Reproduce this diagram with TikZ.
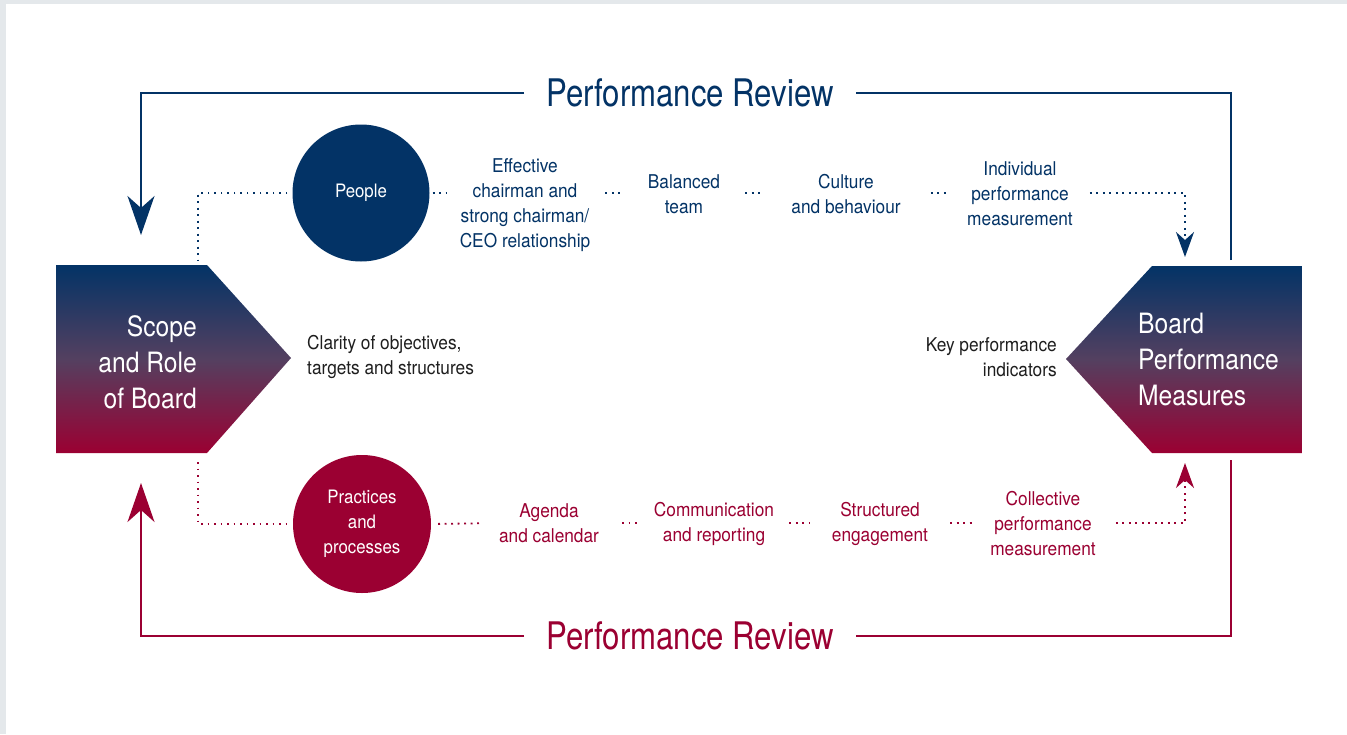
\documentclass[tikz,border=0pt]{standalone}
\usepackage{fontspec}
\setmainfont{TeX Gyre Heros}[FakeStretch=0.82]
\newfontfamily\smallf{TeX Gyre Heros}[FakeStretch=0.91]
\newfontfamily\bigf{TeX Gyre Heros}[FakeStretch=0.88]
\usetikzlibrary{arrows.meta,calc}
\definecolor{navy}{RGB}{3,51,102}
\definecolor{crim}{RGB}{155,0,50}
\definecolor{gradmid}{RGB}{84,64,96}
\definecolor{bggrey}{RGB}{228,232,235}
\definecolor{txt}{RGB}{30,30,30}
\begin{document}
\begin{tikzpicture}[x=1pt,y=-1pt,
  loopN/.style={draw=navy, line width=1.5pt},
  loopC/.style={draw=crim, line width=1.5pt},
  bigtip/.style={-{Stealth[length=39pt,width=27pt,inset=12pt]}},
  smalltip/.style={-{Stealth[length=25pt,width=18pt,inset=8pt]}},
  dotN/.style={draw=navy, line width=1.8pt, dash pattern=on 1.8pt off 4.7pt},
  dotC/.style={draw=crim, line width=1.8pt, dash pattern=on 1.8pt off 4.7pt},
  itemN/.style={text=navy, font=\smallf\fontsize{19}{25}\selectfont, align=center, inner sep=0pt},
  itemC/.style={text=crim, font=\smallf\fontsize{19}{25}\selectfont, align=center, inner sep=0pt},
  circN/.style={circle, fill=navy, minimum size=137pt, inner sep=0pt, text=white, align=center, font=\smallf\fontsize{18.5}{25}\selectfont},
  circC/.style={circle, fill=crim, minimum size=138pt, inner sep=0pt, text=white, align=center, font=\smallf\fontsize{18.5}{25}\selectfont},
  revtitle/.style={font=\fontsize{38}{40}\selectfont, inner xsep=22pt, inner ysep=0pt},
  bigtext/.style={font=\bigf\fontsize{28}{36}\selectfont, text=white, inner sep=0pt},
  midtext/.style={font=\smallf\fontsize{19}{25}\selectfont, text=txt, inner sep=0pt},
  gradfill/.style={top color=navy, bottom color=crim, middle color=gradmid}
]
% background
\fill[bggrey] (0,0) rectangle (1347,734);
\fill[white] (6,4) rectangle (1347,734);
\useasboundingbox (0,0) rectangle (1347,734);

% side shapes
\shade[gradfill] (56,265) -- (207,265) -- (291,358) -- (207,453) -- (56,453) -- cycle;
\shade[gradfill] (1302,266) -- (1152,266) -- (1066,359) -- (1152,453) -- (1302,453) -- cycle;
\node[bigtext, anchor=east, align=right] (scope) at (197,362) {Scope\\and Role\\of Board};
\node[bigtext, anchor=west, align=left] (bpm) at (1138,359) {Board\\Performance\\Measures};

% middle texts
\node[midtext, anchor=west, align=left] (clar) at (307,357) {Clarity of objectives,\\targets and structures};
\node[midtext, anchor=east, align=right] (kpi) at (1057,357) {Key performance\\indicators};

% circles
\node[circN] (people) at (361,193) {People};
\node[circC] (prac) at (362,524) {Practices\\and\\processes};

% top chain
\node[itemN] (eff) at (525,205.5) {Effective\\chairman and\\strong chairman/\\CEO relationship};
\node[itemN] (bal) at (684,194.5) {Balanced\\team};
\node[itemN] (cul) at (846,194.5) {Culture\\and behaviour};
\node[itemN] (ind) at (1020,194) {Individual\\performance\\measurement};

% bottom chain
\node[itemC] (agd) at (549,523.5) {Agenda\\and calendar};
\node[itemC] (com) at (714,523.5) {Communication\\and reporting};
\node[itemC] (str) at (880,523.5) {Structured\\engagement};
\node[itemC] (col) at (1043,524) {Collective\\performance\\measurement};

% review titles
\node[revtitle, text=navy] (revT) at (690,93) {Performance Review};
\node[revtitle, text=crim] (revB) at (690,636) {Performance Review};

% coordinates
\coordinate (rowT) at (0,193);
\coordinate (rowB) at (0,523);
\coordinate (loopTR) at (1231,260);
\coordinate (loopTL) at (141,235);
\coordinate (loopBR) at (1231,460);
\coordinate (loopBL) at (141,483);
\coordinate (tipT) at (1185,257);
\coordinate (tipB) at (1185,463);
\coordinate (dotTL) at (198,260);
\coordinate (dotBL) at (198,462);

% review loops
\draw[loopN] (loopTR) |- (revT.east);
\draw[loopN, bigtip] (revT.west) -| (loopTL);
\draw[loopC] (loopBR) |- (revB.east);
\draw[loopC, bigtip] (revB.west) -| (loopBL);

% top dotted chain
\draw[dotN, shorten <=5pt] (people.west) -| (dotTL);
\draw[dotN, shorten <=3pt, shorten >=13pt] (people.east) -- (eff.west |- rowT);
\draw[dotN, shorten <=15pt, shorten >=27pt] (eff.east |- rowT) -- (bal.west |- rowT);
\draw[dotN, shorten <=25pt, shorten >=29pt] (bal.east |- rowT) -- (cul.west |- rowT);
\draw[dotN, shorten <=30pt, shorten >=19pt] (cul.east |- rowT) -- (ind.west |- rowT);
\draw[dotN, smalltip, shorten <=17pt] (ind.east |- rowT) -| (tipT);

% bottom dotted chain
\draw[dotC, shorten >=6pt] (dotBL) |- (prac.west);
\draw[dotC, shorten <=7pt, shorten >=19pt] (prac.east) -- (agd.west |- rowB);
\draw[dotC, shorten <=23pt, shorten >=13pt] (agd.east |- rowB) -- (com.west |- rowB);
\draw[dotC, shorten <=15pt, shorten >=23pt] (com.east |- rowB) -- (str.west |- rowB);
\draw[dotC, shorten <=22pt, shorten >=17pt] (str.east |- rowB) -- (col.west |- rowB);
\draw[dotC, smalltip, shorten <=20pt] (col.east |- rowB) -| (tipB);
\end{tikzpicture}
\end{document}
